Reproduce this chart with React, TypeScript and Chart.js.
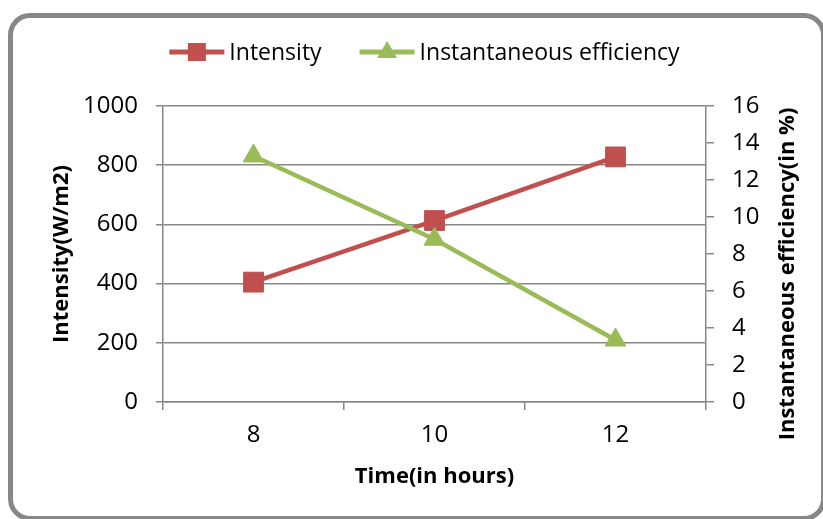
import React, { useEffect, useRef } from "react";
import { Chart, registerables } from "chart.js";

Chart.register(...registerables);

const categories = ["8", "10", "12"];
const intensity = [405, 613, 828];
const efficiency = [13.3, 8.8, 3.35];
const seriesNames = ["Intensity", "Instantaneous efficiency"];
const xTitle = "Time(in hours)";
const leftTitle = "Intensity(W/m2)";
const rightTitle = "Instantaneous efficiency(in %)";

const RED = "#C0504D";
const GREEN = "#9BBB59";
const GRID = "#878787";
const FONT = "'Open Sans', sans-serif";

const overlay = {
  id: "overlay",
  afterDraw(chart: any) {
    const ctx = chart.ctx as CanvasRenderingContext2D;
    const ca = chart.chartArea;
    const midY = (ca.top + ca.bottom) / 2;
    ctx.save();
    ctx.fillStyle = "#000";
    ctx.font = `bold 22px ${FONT}`;
    ctx.textAlign = "center";
    ctx.textBaseline = "middle";
    ctx.fillText(xTitle, (ca.left + ca.right) / 2, ca.bottom + 75);

    ctx.save();
    ctx.translate(ca.left - 101, midY);
    ctx.rotate(-Math.PI / 2);
    ctx.fillText(leftTitle, 0, 0);
    ctx.restore();

    ctx.save();
    ctx.translate(ca.right + 82, midY + 20);
    ctx.rotate(-Math.PI / 2);
    ctx.fillText(rightTitle, 0, 0);
    ctx.restore();

    // legend
    ctx.font = `23px ${FONT}`;
    ctx.textAlign = "left";
    const lineLen = 55;
    const gapText = 5;
    const gapItems = 38;
    const colors = [RED, GREEN];
    const widths = seriesNames.map((n) => lineLen + gapText + ctx.measureText(n).width);
    const total = widths.reduce((a, b) => a + b, 0) + gapItems;
    let x = (ca.left + ca.right) / 2 - 10 - total / 2;
    const y = ca.top - 54;
    seriesNames.forEach((name, i) => {
      ctx.strokeStyle = colors[i];
      ctx.lineWidth = 5;
      ctx.beginPath();
      ctx.moveTo(x, y);
      ctx.lineTo(x + lineLen, y);
      ctx.stroke();
      ctx.fillStyle = colors[i];
      const cx = x + lineLen / 2;
      if (i === 0) {
        ctx.fillRect(cx - 9, y - 9, 18, 18);
      } else {
        ctx.beginPath();
        ctx.moveTo(cx, y - 11);
        ctx.lineTo(cx + 10, y + 6);
        ctx.lineTo(cx - 10, y + 6);
        ctx.closePath();
        ctx.fill();
      }
      ctx.fillStyle = "#000";
      ctx.fillText(name, x + lineLen + gapText, y + 1);
      x += widths[i] + gapItems;
    });
    ctx.restore();
  },
};

export default function App() {
  const ref = useRef<HTMLCanvasElement | null>(null);

  useEffect(() => {
    if (!ref.current) return;
    const chart = new Chart(ref.current, {
      type: "line",
      data: {
        labels: categories,
        datasets: [
          {
            label: seriesNames[0],
            data: intensity,
            yAxisID: "y",
            borderColor: RED,
            backgroundColor: RED,
            borderWidth: 4.5,
            pointStyle: "rect",
            pointRadius: 14,
            pointBorderWidth: 1,
            pointBackgroundColor: RED,
            pointBorderColor: RED,
            order: 1,
          },
          {
            label: seriesNames[1],
            data: efficiency,
            yAxisID: "y1",
            borderColor: GREEN,
            backgroundColor: GREEN,
            borderWidth: 4.5,
            pointStyle: "triangle",
            pointRadius: 12,
            pointBorderWidth: 1,
            pointBackgroundColor: GREEN,
            pointBorderColor: GREEN,
            order: 0,
          },
        ],
      },
      options: {
        animation: false,
        responsive: true,
        maintainAspectRatio: false,
        layout: { padding: { top: 106, left: 0, right: 0, bottom: 0 } },
        plugins: { legend: { display: false }, tooltip: { enabled: false } },
        scales: {
          x: {
            type: "category",
            offset: true,
            grid: { drawOnChartArea: false, offset: true, tickLength: 8, color: GRID, lineWidth: 1.5 },
            border: { color: GRID, width: 1.5 },
            ticks: { font: { family: FONT, size: 24 }, color: "#000", padding: 11 },
            afterFit: (s: any) => { s.height = 117; },
          },
          y: {
            position: "left",
            min: 0,
            max: 1000,
            ticks: {
              stepSize: 200,
              font: { family: FONT, size: 24 },
              color: "#000",
              padding: 18,
              callback: (v: any) => String(v),
            },
            grid: { color: GRID, lineWidth: 1.5, tickLength: 7 },
            border: { color: GRID, width: 1.5 },
            afterFit: (s: any) => { s.width = 163; },
          },
          y1: {
            position: "right",
            min: 0,
            max: 16,
            ticks: {
              stepSize: 2,
              font: { family: FONT, size: 24 },
              color: "#000",
              padding: 18,
              callback: (v: any) => String(v),
            },
            grid: { drawOnChartArea: false, color: GRID, lineWidth: 1.5, tickLength: 8 },
            border: { color: GRID, width: 1.5 },
            afterFit: (s: any) => { s.width = 117; },
          },
        },
      },
      plugins: [overlay],
    });
    return () => chart.destroy();
  }, []);

  return (
    <div style={{ position: "absolute", left: 0, top: 0, width: 823, height: 519, overflow: "hidden", background: "#fff" }}>
      <div
        style={{
          position: "absolute",
          left: 8,
          top: 13,
          width: 818,
          height: 508,
          boxSizing: "border-box",
          border: "5px solid #878787",
          borderRadius: 22,
        }}
      />
      <canvas ref={ref} style={{ position: "absolute", left: 0, top: 0, width: 823, height: 519 }} />
    </div>
  );
}
